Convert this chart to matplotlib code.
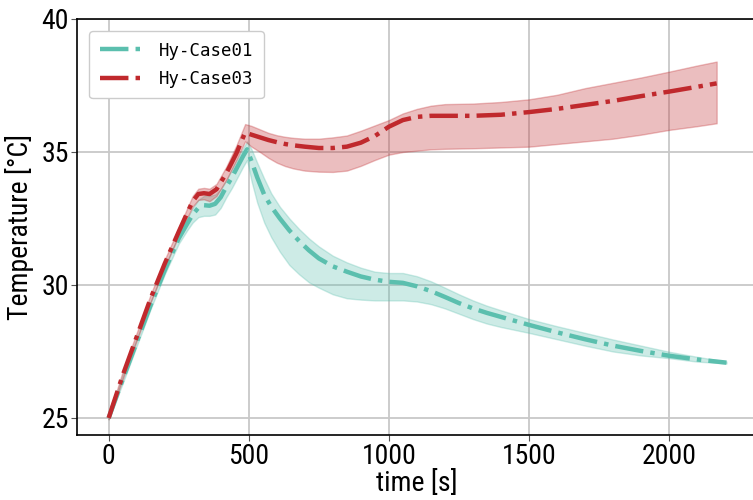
import matplotlib
matplotlib.use("Agg")
import matplotlib.pyplot as plt

# Hy-Case01 (teal): mean curve with upper / lower envelope
t_case01 = [0, 50, 100, 150, 200, 250, 280, 300, 320, 340, 360, 380, 400, 420,
            440, 460, 480, 494, 510, 530, 555, 580, 611, 645, 680, 715, 750, 800,
            850, 900, 950, 1000, 1050, 1100, 1150, 1200, 1250, 1300, 1350, 1400,
            1500, 1600, 1700, 1800, 1900, 2000, 2100, 2205]
mean_case01 = [25.0, 26.45, 27.85, 29.25, 30.55, 31.75, 32.3, 32.65, 32.9, 33.0,
               32.98, 33.05, 33.3, 33.7, 34.05, 34.45, 34.85, 35.1, 34.65, 34.05,
               33.4, 32.95, 32.5, 32.05, 31.65, 31.3, 31.0, 30.7, 30.5, 30.32,
               30.2, 30.12, 30.08, 29.95, 29.77, 29.55, 29.32, 29.12, 28.95, 28.8,
               28.5, 28.22, 27.96, 27.72, 27.52, 27.34, 27.2, 27.08]
upper_case01 = [25.05, 26.6, 28.0, 29.4, 30.7, 31.9, 32.5, 32.9, 33.2, 33.35,
                33.35, 33.4, 33.6, 33.95, 34.35, 34.75, 35.15, 35.4, 35.1, 34.6,
                34.0, 33.45, 32.94, 32.5, 32.1, 31.75, 31.45, 31.1, 30.85, 30.65,
                30.5, 30.45, 30.45, 30.33, 30.14, 29.9, 29.65, 29.42, 29.22, 29.05,
                28.72, 28.45, 28.2, 27.95, 27.72, 27.49, 27.3, 27.12]
lower_case01 = [24.95, 26.3, 27.7, 29.1, 30.4, 31.55, 32.05, 32.35, 32.55, 32.6,
                32.6, 32.65, 32.9, 33.3, 33.65, 34.05, 34.45, 34.7, 33.9, 33.1,
                32.35, 31.8, 31.25, 30.75, 30.4, 30.1, 29.9, 29.65, 29.5, 29.45,
                29.42, 29.42, 29.42, 29.38, 29.28, 29.12, 28.92, 28.72, 28.55, 28.42,
                28.2, 27.96, 27.72, 27.5, 27.35, 27.25, 27.12, 27.05]

# Hy-Case03 (red): mean curve with upper / lower envelope
t_case03 = [0, 50, 100, 150, 200, 250, 280, 300, 320, 340, 360, 385, 420, 456,
            487, 510, 540, 570, 600, 630, 660, 700, 750, 800, 850, 900, 950,
            1000, 1050, 1100, 1150, 1200, 1300, 1400, 1500, 1600, 1700, 1800,
            1900, 2000, 2100, 2170]
mean_case03 = [25.0, 26.6, 28.05, 29.5, 30.8, 32.0, 32.7, 33.15, 33.42, 33.45,
               33.42, 33.6, 34.2, 34.95, 35.73, 35.65, 35.55, 35.45, 35.37, 35.3,
               35.25, 35.2, 35.15, 35.15, 35.2, 35.35, 35.6, 35.95, 36.2, 36.32,
               36.36, 36.36, 36.36, 36.4, 36.5, 36.62, 36.77, 36.92, 37.1, 37.27,
               37.45, 37.58]
upper_case03 = [25.05, 26.75, 28.2, 29.65, 30.95, 32.15, 32.88, 33.35, 33.62, 33.65,
                33.62, 33.8, 34.45, 35.25, 36.05, 35.98, 35.85, 35.72, 35.63, 35.57,
                35.53, 35.5, 35.5, 35.55, 35.62, 35.8, 36.0, 36.2, 36.45, 36.62,
                36.74, 36.8, 36.82, 36.88, 36.98, 37.15, 37.4, 37.6, 37.8, 38.02,
                38.25, 38.4]
lower_case03 = [24.95, 26.45, 27.9, 29.35, 30.65, 31.85, 32.52, 32.95, 33.2, 33.22,
                33.15, 33.35, 33.95, 34.7, 35.4, 35.2, 35.0, 34.78, 34.6, 34.47,
                34.38, 34.3, 34.26, 34.25, 34.3, 34.48, 34.7, 34.9, 35.0, 35.05,
                35.1, 35.12, 35.14, 35.17, 35.2, 35.3, 35.4, 35.5, 35.65, 35.83,
                35.97, 36.08]

x_ticks = [0, 500, 1000, 1500, 2000]
y_ticks = [25, 30, 35, 40]

teal = "#5bbfae"
red = "#c0292d"

label_font = ["Liberation Sans Narrow", "Roboto Condensed", "DejaVu Sans"]

fig = plt.figure(figsize=(7.53, 5.0), dpi=100)
ax = fig.add_axes([77 / 753, 65 / 500, 680.3 / 753, 416 / 500])

ax.fill_between(t_case01, lower_case01, upper_case01, color=teal, alpha=0.3, lw=1)
ax.fill_between(t_case03, lower_case03, upper_case03, color=red, alpha=0.3, lw=1)
ax.plot(t_case01, mean_case01, color=teal, lw=3.2, ls="-.", label="Hy-Case01")
ax.plot(t_case03, mean_case03, color=red, lw=3.2, ls="-.", label="Hy-Case03")

ax.set_xlim(-113, 2315)
ax.set_ylim(24.36, 40)
ax.set_xticks(x_ticks)
ax.set_yticks(y_ticks)
ax.grid(True, color="#c8c8c8", lw=1.3)
ax.set_axisbelow(True)
ax.spines["right"].set_visible(False)
for s in ("left", "bottom", "top"):
    ax.spines[s].set_color("black")
    ax.spines[s].set_linewidth(1.2)

ax.tick_params(axis="both", labelsize=20, length=4, color="#555555", pad=2)
for lab in ax.get_xticklabels() + ax.get_yticklabels():
    lab.set_family(label_font)

ax.set_xlabel("time [s]", fontsize=20, family=label_font, labelpad=0)
ax.set_ylabel("Temperature [°C]", fontsize=20, family=label_font, labelpad=5)

leg = ax.legend(loc="upper left", prop={"family": ["DejaVu Sans Mono"], "size": 12.5},
                frameon=True, fancybox=True, edgecolor="#cccccc", framealpha=1,
                borderpad=0.6, handlelength=2.5, handletextpad=0.9,
                labelspacing=0.6, borderaxespad=0.7)
leg.get_frame().set_linewidth(1.0)

fig.savefig("out.png", dpi=100)
